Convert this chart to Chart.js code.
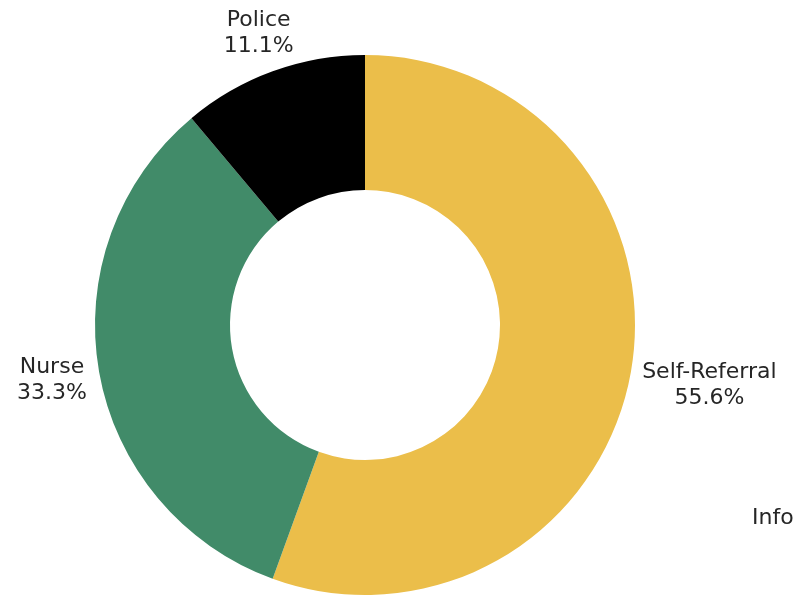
<!DOCTYPE html>
<html>
<head>
<meta charset="utf-8">
<script src="https://cdn.jsdelivr.net/npm/chart.js@4"></script>
<style>
  html, body { margin: 0; padding: 0; background: #fff; }
  #wrap { width: 794px; height: 597px; position: relative; }
</style>
</head>
<body>
<div id="wrap"><canvas id="referralChart"></canvas></div>
<script>
const categories = ['Self-Referral', 'Nurse', 'Police'];
const counts = [5, 3, 1];
const percentLabels = ['55.6%', '33.3%', '11.1%'];
const colors = ['#EBBE4A', '#418B69', '#000000'];
const extraLabel = 'Information';

const labelFont = '22px "DejaVu Sans", sans-serif';

// draws "name / pct" outside each slice
const outsideLabels = {
  id: 'outsideLabels',
  afterDatasetsDraw(chart) {
    const ctx = chart.ctx;
    const meta = chart.getDatasetMeta(0);
    ctx.save();
    ctx.font = labelFont;
    ctx.fillStyle = '#262626';
    ctx.textAlign = 'center';
    ctx.textBaseline = 'middle';
    meta.data.forEach((arc, i) => {
      const p = arc.getProps(['x', 'y', 'startAngle', 'endAngle', 'outerRadius']);
      const mid = (p.startAngle + p.endAngle) / 2;
      const w = Math.max(ctx.measureText(categories[i]).width, ctx.measureText(percentLabels[i]).width);
      const halfW = w / 2, halfH = 20;
      const dist = p.outerRadius + 10 + Math.abs(Math.cos(mid)) * halfW + Math.abs(Math.sin(mid)) * halfH;
      const cx = p.x + Math.cos(mid) * dist;
      const cy = p.y + Math.sin(mid) * dist;
      ctx.fillText(categories[i], cx, cy - 13);
      ctx.fillText(percentLabels[i], cx, cy + 13);
    });
    // cut-off label at the right edge
    ctx.textAlign = 'left';
    ctx.fillText(extraLabel, 752, 518);
    ctx.restore();
  }
};

const ctx = document.getElementById('referralChart').getContext('2d');
const referralChart = new Chart(ctx, {
  type: 'doughnut',
  data: {
    labels: categories,
    datasets: [{
      data: counts,
      backgroundColor: colors,
      borderWidth: 0
    }]
  },
  options: {
    responsive: true,
    maintainAspectRatio: false,
    animation: false,
    cutout: '50%',
    layout: {
      padding: { left: 95, right: 159, top: 55, bottom: 2 }
    },
    plugins: {
      legend: { display: false },
      tooltip: { enabled: false }
    }
  },
  plugins: [outsideLabels]
});
</script>
</body>
</html>
